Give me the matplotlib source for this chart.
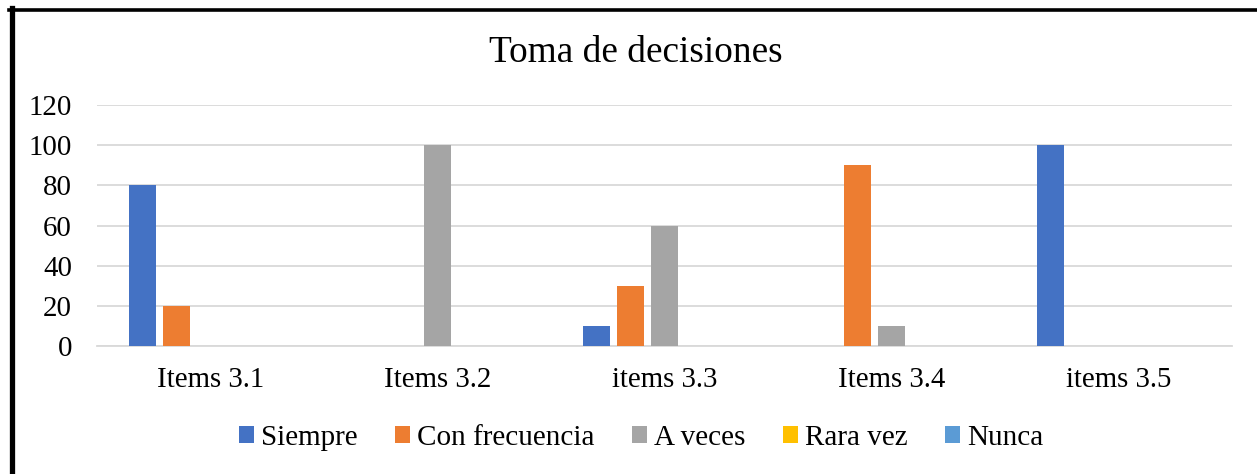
import numpy as np
import matplotlib
matplotlib.use("Agg")
import matplotlib.pyplot as plt
from matplotlib.patches import Patch
from matplotlib.lines import Line2D

# Data
categories = ["Items 3.1", "Items 3.2", "items 3.3", "Items 3.4", "items 3.5"]
series_names = ["Siempre", "Con frecuencia", "A veces", "Rara vez", "Nunca"]
siempre = [80, 0, 10, 0, 100]
con_frecuencia = [20, 0, 30, 90, 0]
a_veces = [0, 100, 60, 10, 0]
rara_vez = [0, 0, 0, 0, 0]
nunca = [0, 0, 0, 0, 0]
yticks = [0, 20, 40, 60, 80, 100, 120]

colors = ["#4472C4", "#ED7D31", "#A5A5A5", "#FFC000", "#5B9BD5"]

plt.rcParams['font.family'] = ['Liberation Serif', 'DejaVu Serif']

fig = plt.figure(figsize=(12.57, 4.74), dpi=100)
ax = fig.add_axes([0.0772, 0.270, 0.9028, 0.5085])

x = np.arange(len(categories))
step = 34 / 227.
width = 27 / 227.
all_series = [siempre, con_frecuencia, a_veces, rara_vez, nunca]
for i, (vals, col) in enumerate(zip(all_series, colors)):
    ax.bar(x + (i - 2) * step, vals, width=width, color=col, zorder=3)

ax.set_xlim(-0.5, len(categories) - 0.5)
ax.set_ylim(0, 120)
ax.set_yticks(yticks)
ax.set_xticks(x)
ax.set_xticklabels(categories)
ax.tick_params(axis='both', length=0, labelsize=20.8)
ax.tick_params(axis='y', pad=18)
ax.tick_params(axis='x', pad=15)
ax.grid(axis='y', color='#d9d9d9', linewidth=1.3, zorder=0)
for s in ['top', 'right', 'left']:
    ax.spines[s].set_visible(False)
ax.spines['bottom'].set_color('#d9d9d9')
ax.spines['bottom'].set_linewidth(1.3)

fig.text(0.506, 0.889, "Toma de decisiones", ha='center', va='center', fontsize=26.8)

handles = [Patch(facecolor=c, edgecolor='none') for c in colors]
fig.legend(handles, series_names, loc='center', bbox_to_anchor=(0.5102, 0.077),
           ncol=5, frameon=False, fontsize=21, handlelength=0.52, handleheight=0.52,
           handletextpad=0.25, columnspacing=1.27)

# black frame (left and top only, as in the reference)
fig.add_artist(Line2D([11.5 / 1257, 11.5 / 1257], [0, 1 - 8 / 474],
                      color='black', linewidth=3.8, transform=fig.transFigure))
fig.add_artist(Line2D([9 / 1257, 1], [1 - 9.5 / 474, 1 - 9.5 / 474],
                      color='black', linewidth=2.6, transform=fig.transFigure))

fig.savefig("out.png", dpi=100)
